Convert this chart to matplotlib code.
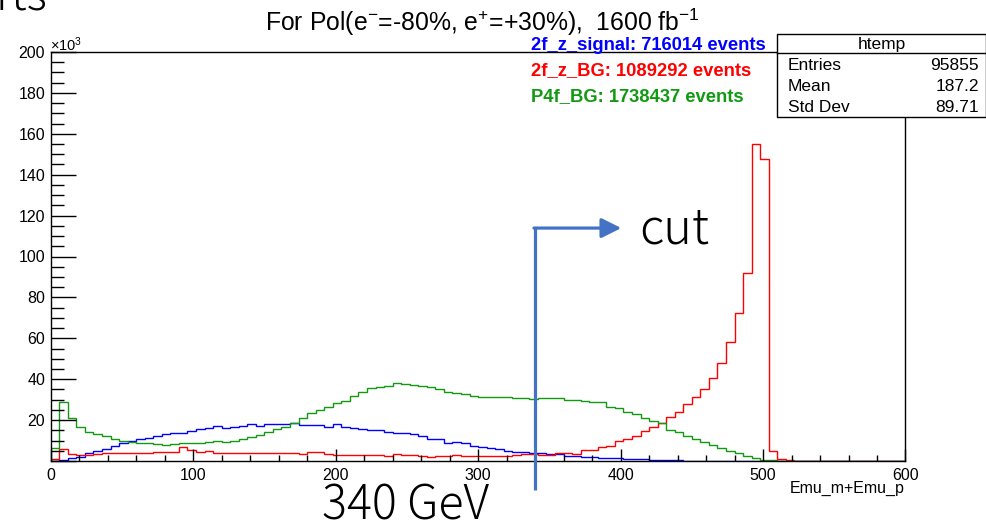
import numpy as np
import matplotlib.pyplot as plt
from matplotlib.patches import Rectangle, FancyArrowPatch
from matplotlib.lines import Line2D
from matplotlib.ticker import MultipleLocator, FuncFormatter

plt.rcParams['font.family'] = ['Liberation Sans', 'DejaVu Sans']
plt.rcParams['mathtext.fontset'] = 'custom'
plt.rcParams['mathtext.rm'] = 'Liberation Sans'
plt.rcParams['mathtext.it'] = 'Liberation Sans:italic'
plt.rcParams['mathtext.bf'] = 'Liberation Sans:bold'

# histogram: 100 bins over 0-600 GeV, contents in units of 10^3 events
bin_edges = np.linspace(0, 600, 101)

signal_2f_z = [
    0.0, 0.3, 1.3, 2.1, 4.0, 5.0, 5.7, 7.3, 9.0, 9.8,
    10.6, 11.4, 12.2, 13.0, 13.5, 13.8, 14.7, 15.5, 16.0, 17.1,
    16.0, 16.8, 17.3, 17.9, 17.3, 17.9, 17.9, 18.1, 18.4, 17.6,
    17.6, 17.6, 16.8, 18.1, 16.8, 16.3, 15.7, 15.2, 15.2, 14.3,
    13.8, 13.5, 13.0, 12.4, 11.0, 11.0, 9.0, 9.4, 8.6, 7.5,
    7.0, 6.5, 5.7, 5.0, 4.5, 4.5, 4.0, 3.7, 3.6, 3.4,
    2.6, 2.6, 1.8, 1.8, 1.6, 1.3, 1.3, 0.8, 0.8, 0.8,
    0.5, 0.5, 0.5, 0.5, 0.0, 0.0, 0.0, 0.0, 0.0, 0.0,
    0.0, 0.0, 0.0, 0.0, 0.0, 0.0, 0.0, 0.0, 0.0, 0.0,
    0.0, 0.0, 0.0, 0.0, 0.0, 0.0, 0.0, 0.0, 0.0, 0.0,
]

bg_2f_z = [
    0.8, 5.7, 3.4, 2.9, 3.0, 3.4, 3.7, 3.7, 3.7, 3.9,
    3.9, 3.9, 4.2, 4.2, 4.5, 7.0, 5.4, 4.5, 5.0, 4.0,
    4.0, 4.0, 4.0, 4.0, 4.0, 4.0, 4.0, 4.0, 4.0, 3.4,
    4.2, 4.2, 3.4, 2.9, 2.9, 2.9, 2.9, 2.9, 2.9, 2.4,
    3.2, 2.9, 2.9, 2.5, 2.1, 2.4, 2.4, 2.9, 2.3, 2.3,
    2.3, 2.3, 2.3, 2.4, 2.9, 3.4, 3.4, 2.9, 2.9, 3.7,
    3.7, 3.3, 5.2, 5.2, 6.7, 7.5, 9.8, 10.6, 12.4, 14.7,
    16.5, 18.7, 21.7, 23.8, 27.7, 31.4, 35.0, 40.4, 47.8, 58.3,
    72.2, 91.9, 154.8, 147.5, 5.0, 1.0, 0.5, 0.0, 0.0, 0.0,
    0.0, 0.0, 0.0, 0.0, 0.0, 0.0, 0.0, 0.0, 0.0, 0.0,
]

bg_p4f = [
    6.2, 28.7, 21.2, 16.8, 14.3, 13.2, 12.2, 10.6, 9.9, 9.4,
    9.0, 8.6, 8.3, 7.8, 8.3, 8.6, 8.6, 8.6, 9.1, 9.6,
    9.4, 9.9, 10.6, 11.9, 12.7, 14.3, 15.5, 16.8, 18.7, 20.9,
    23.3, 24.9, 26.6, 28.2, 29.3, 31.9, 33.9, 35.5, 36.3, 36.8,
    38.3, 37.7, 37.2, 36.7, 36.0, 35.2, 33.6, 33.1, 32.6, 31.8,
    31.4, 31.4, 31.1, 31.1, 31.0, 30.7, 30.3, 30.7, 31.0, 30.7,
    29.8, 29.8, 29.3, 28.7, 28.7, 26.6, 25.8, 24.1, 23.0, 20.9,
    19.7, 18.4, 15.2, 14.3, 12.4, 10.6, 9.4, 7.7, 6.2, 5.0,
    3.8, 2.3, 1.3, 0.6, 0.3, 0.2, 0.1, 0.0, 0.0, 0.0,
    0.0, 0.0, 0.0, 0.0, 0.0, 0.0, 0.0, 0.0, 0.0, 0.0,
]

legend_lines = ["2f_z_signal: 716014 events", "2f_z_BG: 1089292 events", "P4f_BG: 1738437 events"]
line_colors = ["#0000ff", "#ff0000", "#119911"]
stat_names = ["Entries", "Mean", "Std Dev"]
stat_values = ["95855", "187.2", "89.71"]
cut_value = 340

W, H = 987, 521
fig = plt.figure(figsize=(W / 100, H / 100), dpi=100)
ax = fig.add_axes([50.7 / W, 60 / H, (905.5 - 50.7) / W, 409 / H])


def px(x, y):
    # pixel position (from top-left) -> figure fraction
    return x / W, 1 - y / H


for vals, col in zip([signal_2f_z, bg_2f_z, bg_p4f], line_colors):
    ax.stairs(vals, bin_edges, baseline=None, color=col, lw=1.0)

ax.set_xlim(0, 600)
ax.set_ylim(0, 200)
ax.xaxis.set_major_locator(MultipleLocator(100))
ax.xaxis.set_minor_locator(MultipleLocator(20))
ax.yaxis.set_major_locator(MultipleLocator(20))
ax.yaxis.set_minor_locator(MultipleLocator(5))
ax.yaxis.set_major_formatter(FuncFormatter(lambda v, p: '' if v == 0 else f'{v:.0f}'))
ax.tick_params(axis='x', which='major', direction='in', length=8.6, width=1, pad=5, labelsize=11.5)
ax.tick_params(axis='x', which='minor', direction='in', length=4.2, width=1)
ax.tick_params(axis='y', which='major', direction='in', length=18, width=1, pad=4, labelsize=11.5)
ax.tick_params(axis='y', which='minor', direction='in', length=9.4, width=1)
for s in ax.spines.values():
    s.set_linewidth(1.0)

fig.text(*px(50, 45), r"$\times10^{3}$", fontsize=10.5, ha='left', va='center')
fig.text(*px(905, 488), "Emu_m+Emu_p", fontsize=11.5, ha='right', va='center')

# title
fig.text(*px(482, 22), r"For Pol(e$^{-}$=-80%, e$^{+}$=+30%),  1600 fb$^{-1}$",
         fontsize=17.8, ha='center', va='center')

# coloured legend lines
for i, (txt, col) in enumerate(zip(legend_lines, line_colors)):
    fig.text(*px(531, 45 + 25.8 * i), txt, color=col, fontsize=13.2,
             fontweight='bold', ha='left', va='center', zorder=5)

# stats box
x0, y0 = px(777, 116.7)
x1, y1 = px(986, 34.3)
fig.add_artist(Rectangle((x0, y0), x1 - x0, y1 - y0, transform=fig.transFigure,
                         facecolor='white', edgecolor='black', lw=1.0, zorder=3))
yd = 1 - 53.3 / H
fig.add_artist(Line2D([x0, x1], [yd, yd], transform=fig.transFigure, color='black', lw=1.0, zorder=4))
fig.text(*px(881.7, 44), "htemp", fontsize=12.5, ha='center', va='center', zorder=5)
for i, (n, v) in enumerate(zip(stat_names, stat_values)):
    fig.text(*px(788, 66 + 20.5 * i), n, fontsize=12.5, ha='left', va='center', zorder=5)
    fig.text(*px(979, 66 + 20.5 * i), v, fontsize=12.5, ha='right', va='center', zorder=5)

# cut annotation
arrow_col = '#4472C4'
y_top = 113.9
ax.plot([cut_value, cut_value], [-14.2, y_top], color=arrow_col, lw=2.3, clip_on=False,
        solid_capstyle='butt', zorder=6)
ax.add_patch(FancyArrowPatch((cut_value - 0.8, y_top), (400.5, y_top),
                             arrowstyle='-|>,head_length=0.6,head_width=0.3',
                             mutation_scale=20, color=arrow_col, lw=2.3,
                             shrinkA=0, shrinkB=0, clip_on=False, zorder=6))
jp = ['Noto Sans CJK JP', 'DejaVu Sans']
fig.text(*px(639, 244), "cut", fontsize=35, family=jp, weight='light', ha='left', va='baseline')
fig.text(*px(322, 519), "340 GeV", fontsize=33.5, family=jp, weight='light', ha='left', va='baseline')
fig.text(*px(-4, 10), "rts", fontsize=32, family=jp, weight='light', ha='left', va='baseline')

fig.savefig("out.png", dpi=100)
